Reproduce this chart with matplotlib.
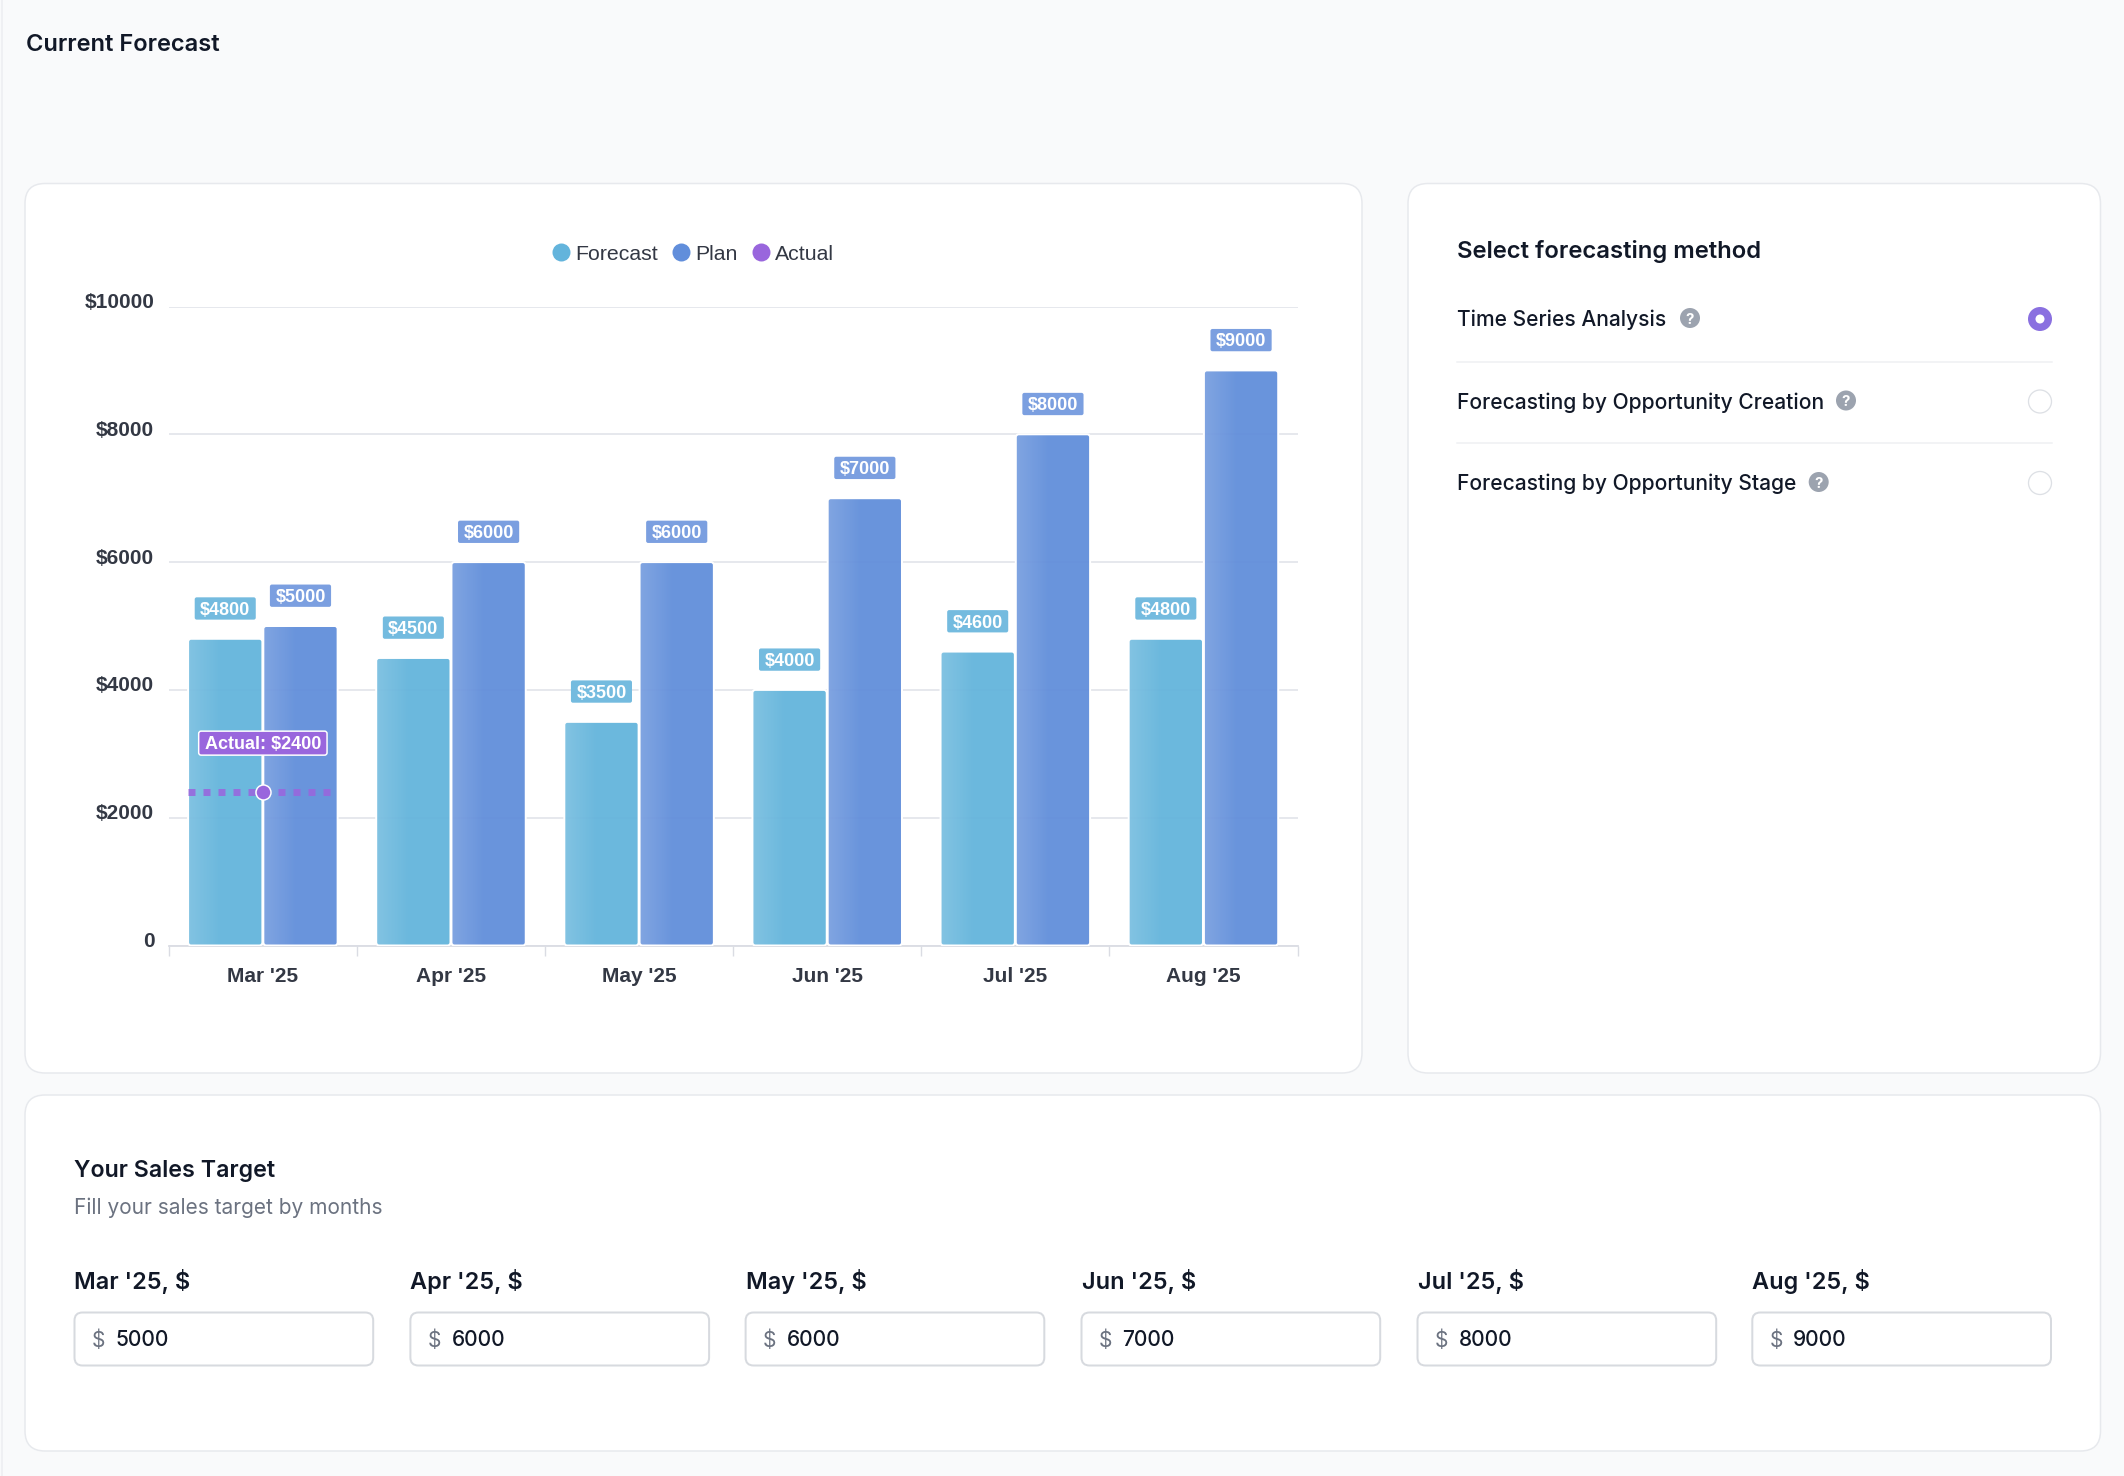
import numpy as np
import matplotlib
matplotlib.use("Agg")
import matplotlib.pyplot as plt
from matplotlib.patches import FancyBboxPatch, Circle, BoxStyle
from matplotlib.lines import Line2D
from matplotlib.transforms import ScaledTranslation

# ---- data ----
months = ["Mar '25", "Apr '25", "May '25", "Jun '25", "Jul '25", "Aug '25"]
forecast = [4800, 4500, 3500, 4000, 4600, 4800]
plan = [5000, 6000, 6000, 7000, 8000, 9000]
actual_month = 0
actual_value = 2400
y_ticks = [0, 2000, 4000, 6000, 8000, 10000]
y_tick_labels = ["0", "$2000", "$4000", "$6000", "$8000", "$10000"]
methods = ["Time Series Analysis", "Forecasting by Opportunity Creation", "Forecasting by Opportunity Stage"]

# ---- style ----
W, H = 2124, 1476
DPI = 100
def pt(px):
    return px * 72.0 / DPI

BG = "#F9FAFB"
CARD_EDGE = "#E7E9ED"
INK = "#111827"
AXIS_INK = "#333844"
GREY = "#6B7280"
FC = "#63B4DC"
PC = "#618EDB"
FC_TAG = "#74BBDF"
PC_TAG = "#7B9FE0"
AC = "#9966DD"
UI = "Inter"
CH = "Liberation Sans"

fig = plt.figure(figsize=(W / DPI, H / DPI), dpi=DPI, facecolor=BG)

# page layer in pixel coordinates
bg = fig.add_axes([0, 0, 1, 1], zorder=0)
bg.set_xlim(0, W)
bg.set_ylim(H, 0)
bg.axis("off")

def rbox(ax, x0, y0, x1, y1, r, fc, ec, lw):
    p = FancyBboxPatch((x0, y0), x1 - x0, y1 - y0,
                       boxstyle=f"round,pad=0,rounding_size={r}",
                       fc=fc, ec=ec, lw=pt(lw), zorder=1)
    ax.add_patch(p)
    return p

bg.plot([2, 2], [0, H], color="#ECEEF1", lw=pt(1.5), zorder=0)
rbox(bg, 25, 183.5, 1362, 1073, 20, "white", CARD_EDGE, 1.5)
rbox(bg, 1408, 183.5, 2100.5, 1073, 20, "white", CARD_EDGE, 1.5)
rbox(bg, 25, 1095, 2100.5, 1451, 20, "white", CARD_EDGE, 1.5)

def label(x, y, s, size, weight="normal", color=INK, ha="left"):
    bg.text(x, y, s, fontsize=pt(size), fontweight=weight, color=color,
            family=UI, ha=ha, va="center_baseline", zorder=3)

label(25.5, 42.8, "Current Forecast", 23.65, "semibold")
label(1457, 248.7, "Select forecasting method", 23.85, "semibold")

row_y = [318, 400.5, 482]
icon_x = [1690, 1846, 1818.7]
for i, (name, y, ix) in enumerate(zip(methods, row_y, icon_x)):
    label(1457, y, name, 21, "medium")
    bg.add_patch(Circle((ix, y), 10, fc="#9CA3AF", ec="none", zorder=3))
    bg.text(ix, y, "?", fontsize=pt(15), color="white", fontweight="bold",
            family=UI, ha="center", va="center_baseline", zorder=4)
    if i == 0:
        bg.add_patch(Circle((2040, y + 1), 12, fc="#8A70E0", ec="none", zorder=3))
        bg.add_patch(Circle((2040, y + 1), 4.5, fc="white", ec="none", zorder=4))
    else:
        bg.add_patch(Circle((2040, y + 1), 11.5, fc="white", ec="#DDE0E5", lw=pt(1.3), zorder=3))
for y in (361.7, 443.3):
    bg.plot([1457, 2052], [y, y], color="#EEF0F3", lw=pt(1.5), zorder=2)

label(74.5, 1168.3, "Your Sales Target", 23.2, "semibold")
label(74.5, 1205.4, "Fill your sales target by months", 20.88, "normal", GREY)

input_x = [74.5, 410.4, 745.6, 1081.5, 1417.5, 1752.3]
for x, m, v in zip(input_x, months, plan):
    label(x, 1279, f"{m}, $", 23.5, "semibold")
    p = rbox(bg, x, 1312.5, x + 298.7, 1365.5, 8, "white", "#D7DADF", 2)
    p.set_zorder(2)
    label(x + 24, 1338.3, "$", 21, "normal", GREY, ha="center")
    label(x + 41, 1338.3, str(v), 21, "medium")

# ---- chart ----
AX_L, AX_R, AX_T, AX_B = 168.8, 1297.5, 306.5, 945.5
ax = fig.add_axes([AX_L / W, 1 - AX_B / H, (AX_R - AX_L) / W, (AX_B - AX_T) / H], zorder=2)
ax.patch.set_alpha(0)

px_x = (AX_R - AX_L) / 6.0           # pixels per category
px_y = (AX_B - AX_T) / 10000.0       # pixels per dollar
OFFSET = 0.2
BAR_W = 0.395
RADIUS = 3.0 / px_x
ASPECT = px_x / px_y

xs = np.arange(len(months))

class Tag:
    """Box of fixed height, padded horizontally, around a text (pixel units)."""
    def __init__(self, padx, height, dy, r=2.0):
        self.padx, self.height, self.dy, self.r = padx, height, dy, r
    def __call__(self, x0, y0, width, height, mutation_size):
        cy = y0 + height / 2 + self.dy
        return BoxStyle.Round(pad=0, rounding_size=self.r)(
            x0 - self.padx, cy - self.height / 2,
            width + 2 * self.padx, self.height, 1.0)

def draw_series(values, centers, color, tag_color, name):
    bars = ax.bar(centers, values, BAR_W, color=color, alpha=0.95, linewidth=0, zorder=2, label=name)
    for rect, v in zip(bars, values):
        x0, w = rect.get_x(), rect.get_width()
        outline = FancyBboxPatch((x0, 0), w, v,
                                 boxstyle=f"round,pad=0,rounding_size={RADIUS}",
                                 mutation_aspect=ASPECT, fc="none", ec="white",
                                 lw=pt(2), zorder=4)
        ax.add_patch(outline)
        rect.set_clip_path(outline)
        ramp = np.zeros((1, 128, 4))
        ramp[..., :3] = 1.0
        ramp[0, :, 3] = np.clip(0.16 * (1 - np.linspace(0, 1, 128) / 0.45), 0, None)
        im = ax.imshow(ramp, extent=[x0, x0 + w, 0, v], aspect="auto", zorder=3, interpolation="bilinear")
        im.set_clip_path(outline)
        ax.annotate(f"${v}", xy=(x0 + w / 2, v), xytext=(0, pt(28.5)), textcoords="offset points",
                    ha="center", va="center", color="white", fontsize=13, fontweight="bold",
                    family=CH, zorder=6,
                    bbox=dict(boxstyle=Tag(5.4, 22.3, 1.8), fc=tag_color, ec="none"))
    return bars

draw_series(forecast, xs - OFFSET, FC, FC_TAG, "Forecast")
draw_series(plan, xs + OFFSET, PC, PC_TAG, "Plan")

# actual marker
ax_x = xs[actual_month]
ax.plot([ax_x - 0.4, ax_x + 0.37], [actual_value, actual_value], color=AC, lw=pt(7), alpha=0.88,
        dashes=(1.0, 8.0 / 7.0), dash_capstyle="butt", zorder=5)
ax.plot([ax_x], [actual_value], "o", ms=pt(15), mfc=AC, mec="white", mew=pt(1.5), zorder=6)
ax.annotate(f"Actual: ${actual_value}", xy=(ax_x, actual_value), xytext=(0, pt(47.2)),
            textcoords="offset points", ha="center", va="center", color="white",
            fontsize=13, fontweight="bold", family=CH, zorder=7,
            bbox=dict(boxstyle=Tag(6.0, 24, 1.8, 2.5), fc=AC, ec="white", lw=pt(1.5)))

ax.set_xlim(-0.5, 5.5)
ax.set_ylim(0, 10000)
for s in ("top", "right", "left"):
    ax.spines[s].set_visible(False)
ax.spines["bottom"].set_color("#DADCE3")
ax.spines["bottom"].set_linewidth(pt(1.8))
ax.set_axisbelow(True)
ax.yaxis.grid(True, color="#DFE1E8", lw=pt(1.5), zorder=0)
ax.xaxis.grid(False)

ax.set_yticks(y_ticks)
ax.set_yticklabels(y_tick_labels, fontsize=15, fontweight="bold", color=AXIS_INK, family=CH)
ax.tick_params(axis="y", length=0, pad=pt(14.5))
ax.set_xticks(xs)
ax.set_xticklabels(months, fontsize=15, fontweight="bold", color=AXIS_INK, family=CH)
ax.tick_params(axis="x", which="major", length=0, pad=pt(21.6))
ax.set_xticks(np.arange(len(months) + 1) - 0.5, minor=True)
ax.tick_params(axis="x", which="minor", length=pt(10), width=pt(1.4), color="#DADCE3")

shift = ScaledTranslation(0, pt(6) / 72.0, fig.dpi_scale_trans)
for t in ax.get_yticklabels():
    t.set_transform(t.get_transform() + shift)

handles = [Line2D([], [], ls="none", marker="o", ms=pt(18), mfc=c, mec="none", label=n)
           for c, n in ((FC, "Forecast"), (PC, "Plan"), (AC, "Actual"))]
leg = ax.legend(handles=handles, ncol=3, loc="center", bbox_to_anchor=(692.7 / W, 1 - 254 / H),
                bbox_transform=fig.transFigure, frameon=False, borderpad=0, borderaxespad=0,
                handlelength=0.9, handletextpad=0.2, columnspacing=0.65,
                prop=dict(family=CH, size=15.3))
for t in leg.get_texts():
    t.set_color(AXIS_INK)

fig.savefig("out.png", dpi=DPI, facecolor=BG)
